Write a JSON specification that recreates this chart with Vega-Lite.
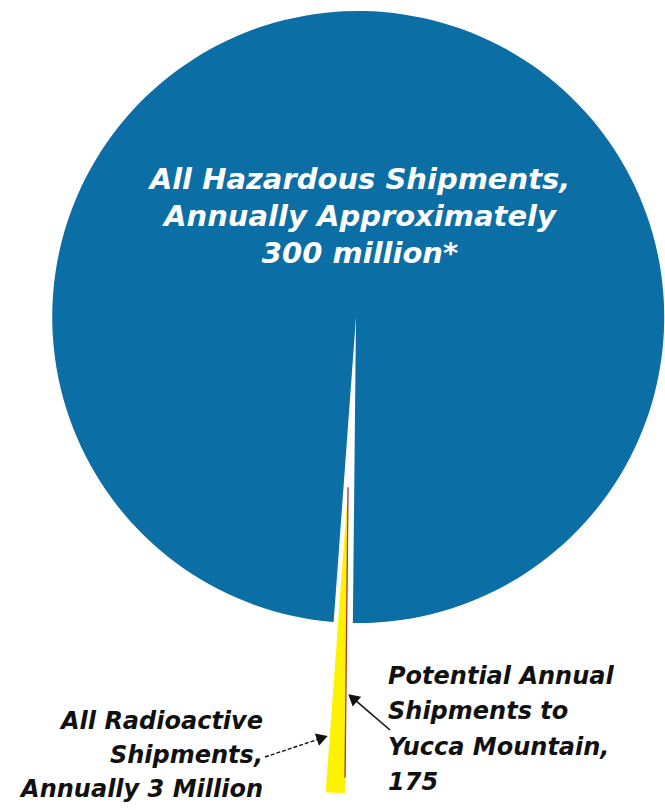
{
  "$schema": "https://vega.github.io/schema/vega-lite/v6.json",
  "width": 665,
  "height": 810,
  "autosize": {"type": "none"},
  "padding": 0,
  "background": "white",
  "config": {"view": {"stroke": null}},
  "data": {
    "values": [
      {"category": "All Hazardous Shipments", "shipments": 300000000, "label": "All Hazardous Shipments,\nAnnually Approximately\n300 million*"},
      {"category": "All Radioactive Shipments", "shipments": 3000000, "label": "All Radioactive\nShipments,\nAnnually 3 Million"},
      {"category": "Potential Annual Shipments to Yucca Mountain", "shipments": 175, "label": "Potential Annual\nShipments to\nYucca Mountain,\n175"}
    ]
  },
  "layer": [
    {
      "transform": [{"filter": "datum.category === 'All Hazardous Shipments'"}],
      "mark": {"type": "arc", "radius": 306},
      "encoding": {
        "x": {"datum": 0, "type": "quantitative", "scale": {"domain": [-1.1634, 1.0098], "nice": false, "zero": false}, "axis": null},
        "y": {"datum": 0, "type": "quantitative", "scale": {"domain": [-1.6111, 1.0359], "nice": false, "zero": false}, "axis": null},
        "theta": {"field": "shipments", "type": "quantitative", "stack": null, "scale": {"domain": [0, 300000000], "range": [3.152, 9.435]}},
        "theta2": {"datum": 0},
        "color": {"field": "category", "type": "nominal", "legend": null, "scale": {"domain": ["All Hazardous Shipments", "All Radioactive Shipments", "Potential Annual Shipments to Yucca Mountain"], "range": ["#0B6EA5", "#FFF200", "#A8322C"]}}
      }
    },
    {
      "transform": [{"filter": "datum.category === 'All Radioactive Shipments'"}],
      "mark": {"type": "arc", "radius": 308, "fill": "white"},
      "encoding": {
        "x": {"datum": 0, "type": "quantitative", "scale": {"domain": [-1.1634, 1.0098], "nice": false, "zero": false}, "axis": null},
        "y": {"datum": 0, "type": "quantitative", "scale": {"domain": [-1.6111, 1.0359], "nice": false, "zero": false}, "axis": null},
        "theta": {"field": "shipments", "type": "quantitative", "stack": null, "scale": {"domain": [0, 300000000], "range": [3.152, 9.435]}},
        "theta2": {"datum": 0}
      }
    },
    {
      "transform": [{"filter": "datum.category === 'All Radioactive Shipments'"}],
      "mark": {"type": "arc", "radius": 306},
      "encoding": {
        "x": {"datum": -0.026, "type": "quantitative", "scale": {"domain": [-1.1634, 1.0098], "nice": false, "zero": false}, "axis": null},
        "y": {"datum": -0.556, "type": "quantitative", "scale": {"domain": [-1.6111, 1.0359], "nice": false, "zero": false}, "axis": null},
        "theta": {"field": "shipments", "type": "quantitative", "stack": null, "scale": {"domain": [0, 300000000], "range": [3.152, 9.435]}},
        "theta2": {"datum": 0},
        "color": {"field": "category", "type": "nominal", "legend": null}
      }
    },
    {
      "transform": [{"filter": "datum.category === 'Potential Annual Shipments to Yucca Mountain'"}],
      "mark": {"type": "arc", "radius": 290, "stroke": "#A8322C", "strokeWidth": 1.3},
      "encoding": {
        "x": {"datum": -0.026, "type": "quantitative", "scale": {"domain": [-1.1634, 1.0098], "nice": false, "zero": false}, "axis": null},
        "y": {"datum": -0.556, "type": "quantitative", "scale": {"domain": [-1.6111, 1.0359], "nice": false, "zero": false}, "axis": null},
        "theta": {"field": "shipments", "type": "quantitative", "stack": null, "scale": {"domain": [0, 300000000], "range": [3.152, 9.435]}},
        "theta2": {"datum": 0},
        "color": {"field": "category", "type": "nominal", "legend": null}
      }
    },
    {
      "transform": [{"filter": "datum.category === 'All Hazardous Shipments'"}],
      "mark": {"type": "text", "font": "DejaVu Sans", "fontWeight": "bold", "fontStyle": "italic", "fontSize": 29, "lineHeight": 37, "lineBreak": "\n", "align": "center", "baseline": "middle", "color": "white"},
      "encoding": {
        "x": {"datum": 0.0131, "type": "quantitative", "scale": {"domain": [-1.1634, 1.0098], "nice": false, "zero": false}, "axis": null},
        "y": {"datum": 0.4477, "type": "quantitative", "scale": {"domain": [-1.6111, 1.0359], "nice": false, "zero": false}, "axis": null},
        "text": {"field": "label"}
      }
    },
    {
      "transform": [{"filter": "datum.category === 'All Radioactive Shipments'"}],
      "mark": {"type": "text", "font": "DejaVu Sans", "fontWeight": "bold", "fontStyle": "italic", "fontSize": 24, "lineHeight": 34, "lineBreak": "\n", "align": "right", "baseline": "middle", "color": "#111111"},
      "encoding": {
        "x": {"datum": -0.3039, "type": "quantitative", "scale": {"domain": [-1.1634, 1.0098], "nice": false, "zero": false}, "axis": null},
        "y": {"datum": -1.3235, "type": "quantitative", "scale": {"domain": [-1.6111, 1.0359], "nice": false, "zero": false}, "axis": null},
        "text": {"field": "label"}
      }
    },
    {
      "transform": [{"filter": "datum.category === 'Potential Annual Shipments to Yucca Mountain'"}],
      "mark": {"type": "text", "font": "DejaVu Sans", "fontWeight": "bold", "fontStyle": "italic", "fontSize": 24, "lineHeight": 35.3, "lineBreak": "\n", "align": "left", "baseline": "middle", "color": "#111111"},
      "encoding": {
        "x": {"datum": 0.1046, "type": "quantitative", "scale": {"domain": [-1.1634, 1.0098], "nice": false, "zero": false}, "axis": null},
        "y": {"datum": -1.1765, "type": "quantitative", "scale": {"domain": [-1.6111, 1.0359], "nice": false, "zero": false}, "axis": null},
        "text": {"field": "label"}
      }
    },
    {
      "transform": [{"filter": "datum.category === 'All Radioactive Shipments'"}],
      "mark": {"type": "rule", "color": "#111111", "strokeWidth": 1.4, "strokeDash": [4, 2]},
      "encoding": {
        "x": {"datum": -0.2974, "type": "quantitative", "scale": {"domain": [-1.1634, 1.0098], "nice": false, "zero": false}, "axis": null},
        "y": {"datum": -1.4379, "type": "quantitative", "scale": {"domain": [-1.6111, 1.0359], "nice": false, "zero": false}, "axis": null},
        "x2": {"datum": -0.1101},
        "y2": {"datum": -1.3755}
      }
    },
    {
      "transform": [{"filter": "datum.category === 'All Radioactive Shipments'"}],
      "mark": {"type": "point", "shape": "triangle-up", "filled": true, "color": "#111111", "size": 170, "angle": 71.6, "opacity": 1},
      "encoding": {
        "x": {"datum": -0.1101, "type": "quantitative", "scale": {"domain": [-1.1634, 1.0098], "nice": false, "zero": false}, "axis": null},
        "y": {"datum": -1.3755, "type": "quantitative", "scale": {"domain": [-1.6111, 1.0359], "nice": false, "zero": false}, "axis": null}
      }
    },
    {
      "transform": [{"filter": "datum.category === 'Potential Annual Shipments to Yucca Mountain'"}],
      "mark": {"type": "rule", "color": "#111111", "strokeWidth": 1.6},
      "encoding": {
        "x": {"datum": 0.1111, "type": "quantitative", "scale": {"domain": [-1.1634, 1.0098], "nice": false, "zero": false}, "axis": null},
        "y": {"datum": -1.3497, "type": "quantitative", "scale": {"domain": [-1.6111, 1.0359], "nice": false, "zero": false}, "axis": null},
        "x2": {"datum": -0.0111},
        "y2": {"datum": -1.2448}
      }
    },
    {
      "transform": [{"filter": "datum.category === 'Potential Annual Shipments to Yucca Mountain'"}],
      "mark": {"type": "point", "shape": "triangle-up", "filled": true, "color": "#111111", "size": 170, "angle": 310.6, "opacity": 1},
      "encoding": {
        "x": {"datum": -0.0111, "type": "quantitative", "scale": {"domain": [-1.1634, 1.0098], "nice": false, "zero": false}, "axis": null},
        "y": {"datum": -1.2448, "type": "quantitative", "scale": {"domain": [-1.6111, 1.0359], "nice": false, "zero": false}, "axis": null}
      }
    }
  ]
}
